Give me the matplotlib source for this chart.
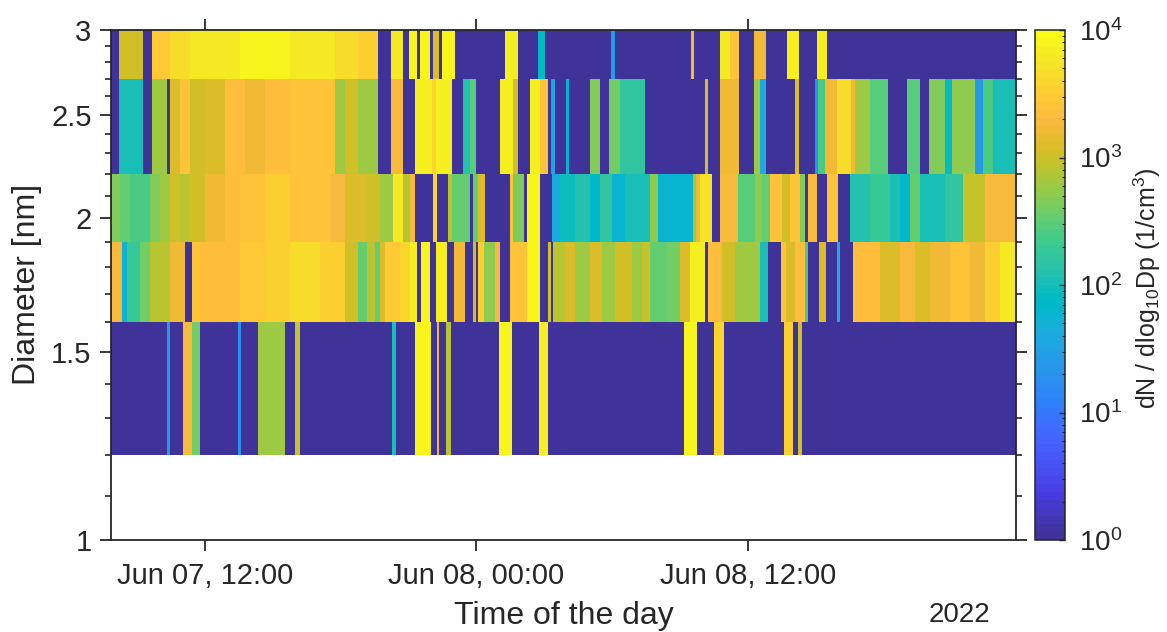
import datetime as dt
import numpy as np
import matplotlib
matplotlib.use("Agg")
import matplotlib.pyplot as plt
import matplotlib.dates as mdates
from matplotlib.colors import ListedColormap, LogNorm
from matplotlib.ticker import FixedLocator, FixedFormatter, NullFormatter, LogLocator

plt.rcParams['font.family'] = ['Liberation Sans', 'DejaVu Sans']
plt.rcParams['mathtext.default'] = 'regular'

parula = ListedColormap([
 (0.2470,0.2000,0.6000),(0.2504,0.2050,0.6400),(0.2578,0.2118,0.7000),(0.2647,0.2178,0.7500),(0.2706,0.2247,0.8000),
 (0.2751,0.2342,0.8710),(0.2783,0.2559,0.8991),(0.2803,0.2782,0.9221),(0.2813,0.3006,0.9414),(0.2810,0.3228,0.9579),
 (0.2795,0.3447,0.9717),(0.2760,0.3667,0.9829),(0.2699,0.3892,0.9906),(0.2602,0.4123,0.9952),(0.2440,0.4358,0.9988),
 (0.2206,0.4603,0.9973),(0.1963,0.4847,0.9892),(0.1834,0.5074,0.9798),(0.1786,0.5289,0.9682),(0.1764,0.5499,0.9520),
 (0.1687,0.5703,0.9359),(0.1540,0.5902,0.9218),(0.1460,0.6091,0.9079),(0.1380,0.6276,0.8973),(0.1248,0.6459,0.8883),
 (0.1113,0.6635,0.8763),(0.0952,0.6798,0.8598),(0.0689,0.6948,0.8394),(0.0297,0.7082,0.8163),(0.0036,0.7203,0.7917),
 (0.0067,0.7312,0.7660),(0.0433,0.7411,0.7394),(0.0964,0.7500,0.7120),(0.1408,0.7584,0.6842),(0.1717,0.7670,0.6554),
 (0.1938,0.7758,0.6251),(0.2161,0.7843,0.5923),(0.2470,0.7918,0.5567),(0.2906,0.7973,0.5188),(0.3406,0.8008,0.4789),
 (0.3909,0.8029,0.4354),(0.4456,0.8024,0.3909),(0.5044,0.7993,0.3480),(0.5616,0.7942,0.3045),(0.6174,0.7876,0.2612),
 (0.6720,0.7793,0.2227),(0.7242,0.7698,0.1910),(0.7738,0.7598,0.1646),(0.8203,0.7498,0.1535),(0.8634,0.7406,0.1596),
 (0.9035,0.7330,0.1774),(0.9393,0.7288,0.2100),(0.9728,0.7298,0.2394),(0.9956,0.7434,0.2371),(0.9970,0.7659,0.2199),
 (0.9952,0.7893,0.2028),(0.9892,0.8136,0.1885),(0.9786,0.8386,0.1766),(0.9676,0.8639,0.1643),(0.9610,0.8890,0.1537),
 (0.9597,0.9135,0.1423),(0.9628,0.9373,0.1265),(0.9691,0.9606,0.1064),(0.9769,0.9839,0.0805)], name='parula')

# Diameter bin edges [nm]
diam_edges = [1.2, 1.6, 1.9, 2.2, 2.7, 3.0]
# Scan clock: scan number -> time
t_start = dt.datetime(2022, 6, 7, 7, 51, 0)
scan_seconds = 159.1
n_scans = 905

# Each channel: scan number at which a run begins, and log10(dN/dlogDp) over the run
ch1_scan = [0,56,59,72,81,89,127,130,147,174,184,189,281,285,304,320,326,328,335,340,388,401,428,437,573,586,603,613,673,682,687,691]
ch1_log  = [0,1.35,0,3.3,2.6,0,1.3,0,2.8,0,2.95,0,2.05,0,3.88,0,3.2,0,2.9,0,3.88,0,3.82,0,3.88,0,3.6,0,3.5,0,3.0,0]

ch2_scan = [0,11,16,29,39,59,74,81,89,129,154,179,209,234,247,256,264,269,274,289,299,306,310,319,325,336,343,354,362,365,367,373,384,389,399,416,429,437,440,442,454,464,479,491,504,521,531,539,556,569,579,594,597,609,611,624,634,649,657,670,675,684,694,697,708,715,726,729,742,769,789,804,819,839,859,874,889]
ch2_log  = [3.25,1.7,2.3,2.6,2.9,3.2,0,3.4,3.35,3.45,3.55,3.65,3.5,3.05,2.5,2.9,2.55,3.1,3.45,3.6,3.85,0,3.88,0,3.82,0,3.2,0,3.0,0,3.5,2.7,3.3,0,3.4,3.88,0,3.0,0,2.9,3.1,2.8,3.1,2.8,3.0,2.75,2.95,2.5,2.6,3.1,3.82,0,3.35,3.3,3.0,2.8,2.8,2.0,0,3.4,3.1,3.35,2.4,0,3.1,0,1.6,0,3.35,3.1,3.3,3.1,3.2,3.4,3.2,3.55,3.75]

ch3_scan = [0,9,19,39,49,59,69,79,94,114,129,154,179,219,234,254,269,282,292,299,304,322,326,337,341,359,362,367,374,399,402,413,416,429,441,449,464,479,489,501,514,539,547,582,585,589,601,609,627,644,651,659,671,679,689,694,697,706,716,727,739,759,779,789,799,809,834,852,874]
ch3_log  = [2.65,2.55,2.4,2.65,2.8,3.0,2.9,3.05,3.2,3.35,3.4,3.5,3.4,3.3,3.1,3.0,2.8,3.75,2.9,3.3,0,3.6,0,2.9,2.5,0,2.55,3.1,0,3.4,2.65,0,3.88,0,1.6,1.95,2.1,1.85,2.2,1.8,2.0,2.7,1.75,2.75,3.2,3.7,0,3.3,2.45,2.7,2.55,3.4,3.05,3.4,2.65,0,3.25,0,3.4,0,2.1,2.3,2.0,1.85,2.55,2.0,2.2,2.95,3.3]

ch4_scan = [0,8,32,41,56,59,69,79,94,114,134,154,179,224,234,247,267,280,292,304,321,325,341,352,359,365,389,402,407,419,429,437,440,444,455,458,479,489,498,509,534,594,597,609,628,643,649,655,684,688,704,707,714,726,740,744,759,777,796,809,818,834,841,864,872,882]
ch4_log  = [0,2.0,0,2.75,0,3.1,3.4,3.05,3.1,3.35,3.2,3.35,3.4,2.8,3.05,2.75,0,3.3,0,3.85,3.6,3.85,0,2.1,2.45,0,3.85,3.0,0,3.85,3.4,0,1.5,0,1.8,0,2.65,0,2.6,2.2,0,3.0,0,3.2,0,2.75,1.6,0,3.1,0,1.3,2.4,3.2,3.65,3.2,2.75,2.45,0,2.45,0,2.65,1.9,2.7,1.4,2.4,2.0]

ch5_scan = [0,8,32,41,59,79,129,179,224,247,267,280,292,298,306,309,319,322,328,331,344,394,407,427,434,500,504,580,583,609,619,628,643,655,676,688,706,716]
ch5_log  = [0,3.0,0,3.45,3.65,3.78,3.88,3.78,3.65,3.5,0,3.8,0,3.88,0,3.88,0,3.1,0,3.88,0,3.82,0,1.9,0,1.4,0,3.2,0,3.75,3.4,0,3.2,0,3.85,0,3.82,0]

# Axis labels
x_ticks = [dt.datetime(2022,6,7,12), dt.datetime(2022,6,8,0), dt.datetime(2022,6,8,12)]
x_labels = ['Jun 07, 12:00', 'Jun 08, 00:00', 'Jun 08, 12:00']
y_ticks = [1, 1.5, 2, 2.5, 3]
y_labels = ['1', '1.5', '2', '2.5', '3']
y_minor = [1.1,1.2,1.3,1.4,1.6,1.7,1.8,1.9,2.1,2.2,2.3,2.4,2.6,2.7,2.8,2.9]

channels = [(ch1_scan, ch1_log), (ch2_scan, ch2_log), (ch3_scan, ch3_log),
            (ch4_scan, ch4_log), (ch5_scan, ch5_log)]

W, H = 1167, 632
ink = '#262626'
fig = plt.figure(figsize=(W/100, H/100), dpi=100, facecolor='white')
ax = fig.add_axes([111/W, 1-540/H, 905/W, 510/H])
cax = fig.add_axes([1035/W, 1-540/H, 30/W, 510/H])
norm = LogNorm(1, 1e4)

def scan_time(s):
    return mdates.date2num(t_start) + np.asarray(s, float)*scan_seconds/86400

mesh = None
for i, (scans, logs) in enumerate(channels):
    n = min(len(scans), len(logs))
    edges = scan_time(list(scans[:n]) + [n_scans])
    vals = 10.0**np.array(logs[:n], float)
    mesh = ax.pcolormesh(edges, [diam_edges[i], diam_edges[i+1]], vals[None, :],
                         cmap=parula, norm=norm, shading='flat', antialiased=False, linewidth=0)

ax.set_yscale('log')
ax.set_ylim(1, 3)
ax.set_xlim(scan_time(0), scan_time(n_scans))
ax.yaxis.set_major_locator(FixedLocator(y_ticks))
ax.yaxis.set_major_formatter(FixedFormatter(y_labels))
ax.yaxis.set_minor_locator(FixedLocator(y_minor))
ax.yaxis.set_minor_formatter(NullFormatter())
ax.set_xticks(mdates.date2num(x_ticks))
ax.set_xticklabels(x_labels)
ax.tick_params(axis='y', which='major', direction='out', length=8, width=1.3, color=ink,
               labelsize=21, labelcolor=ink, right=True, pad=6)
ax.tick_params(axis='y', which='minor', direction='out', length=4, width=1.2, color=ink, right=True)
ax.tick_params(axis='x', which='major', direction='out', length=8, width=1.3, color=ink,
               labelsize=21, labelcolor=ink, top=True, pad=8)
for s in ax.spines.values():
    s.set_linewidth(1.3); s.set_color(ink)
fig.text(27/W, 1-284/H, 'Diameter [nm]', rotation=90, fontsize=23, color=ink, ha='center', va='center')
fig.text(564/W, 1-616/H, 'Time of the day', fontsize=23, color=ink, ha='center', va='center')
fig.text(959/W, 1-615/H, '2022', fontsize=20, color=ink, ha='center', va='center')

cb = fig.colorbar(mesh, cax=cax)
cb.outline.set_linewidth(1.1); cb.outline.set_edgecolor(ink)
cb.ax.yaxis.set_major_locator(LogLocator(base=10, numticks=6))
cb.ax.yaxis.set_minor_locator(LogLocator(base=10, subs=np.arange(2, 10), numticks=6))
cb.ax.yaxis.set_minor_formatter(NullFormatter())
cb.ax.tick_params(which='major', direction='in', length=4, width=1, color=ink, labelsize=20, labelcolor=ink, pad=10)
cb.ax.tick_params(which='minor', direction='in', length=2, width=0.8, color=ink)
fig.text(1147/W, 1-288/H, r'dN / dlog$_{10}$Dp (1/cm$^3$)', rotation=90, fontsize=18,
         color=ink, ha='center', va='center')

fig.savefig('out.png', dpi=100)
